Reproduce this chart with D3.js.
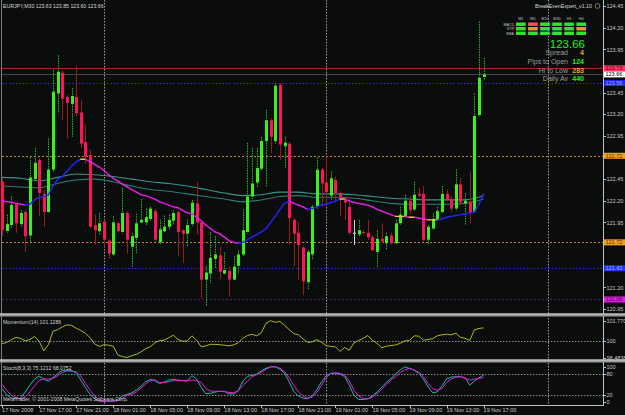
<!DOCTYPE html>
<html>
<head>
<meta charset="utf-8">
<script src="https://cdn.jsdelivr.net/npm/d3@7"></script>
<style>
  body { margin: 0; background: #0b0d0d; }
  svg { display: block; font-family: "Liberation Sans", Arial, sans-serif; }
  .axis path, .axis line { stroke: #c0c0c0; shape-rendering: crispEdges; }
  .axis text { fill: #c8c8c8; font-size: 5.5px; font-family: "Liberation Sans", Arial, sans-serif; }
</style>
</head>
<body>
<script>
// EURJPY M30, bars from 17 Nov 2008 13:00
const opens = [122.42,121.85,121.92,122.16,121.93,122.07,121.80,122.45,122.67,122.28,
  122.07,122.56,123.44,123.68,123.40,123.32,123.40,123.22,122.88,122.73,
  121.92,121.85,121.96,121.74,121.58,121.94,121.84,122.06,121.67,121.77,
  121.95,121.95,121.99,122.08,121.72,121.85,121.90,121.97,122.07,121.86,
  121.82,121.93,122.17,121.95,121.29,121.36,121.53,121.57,121.36,121.39,
  121.29,121.45,121.58,121.84,122.25,122.41,122.57,122.89,123.13,122.89,
  123.54,122.83,122.86,121.98,121.83,121.66,121.26,121.58,122.13,122.56,
  122.41,122.26,122.44,122.29,122.22,122.13,121.83,121.81,121.84,121.83,
  121.78,121.61,121.76,121.71,121.80,121.71,121.94,122.02,122.20,122.10,
  122.28,122.28,121.75,121.88,121.98,122.07,122.28,122.22,122.11,122.39,
  122.17,122.19,122.07,123.19,123.63];
const highs = [122.46,122.04,122.25,122.18,122.09,122.09,122.70,122.81,122.69,122.33,
  122.92,123.71,123.88,123.71,123.42,123.50,123.76,123.37,123.08,122.79,
  122.04,122.06,121.98,121.76,122.02,121.96,122.35,122.08,121.83,122.05,
  122.22,122.11,122.13,122.11,121.98,122.03,122.04,122.09,122.09,121.87,
  121.98,122.21,122.42,121.97,121.44,121.84,121.79,121.67,121.60,121.44,
  121.56,121.63,122.10,122.87,122.81,122.81,122.94,123.25,123.15,123.56,
  123.56,122.94,122.88,122.00,121.95,121.68,121.63,122.15,122.70,122.58,
  122.71,122.54,122.48,122.31,122.25,122.23,121.98,121.98,121.86,121.98,
  121.80,121.86,121.94,121.83,121.83,121.98,122.13,122.27,122.25,122.42,
  122.35,122.37,121.92,122.06,122.13,122.37,122.33,122.25,122.56,122.46,
  122.29,122.54,123.44,124.27,123.85];
const lows = [121.79,121.83,121.89,121.83,121.90,121.61,121.73,122.43,122.02,121.90,
  122.06,122.54,123.21,123.13,122.92,122.94,123.17,122.81,122.63,121.88,
  121.69,121.81,121.67,121.53,121.56,121.83,121.82,121.59,121.44,121.60,
  121.93,121.92,121.97,121.73,121.69,121.83,121.86,121.92,121.56,121.48,
  121.67,121.91,121.81,121.07,120.98,121.25,121.42,121.29,121.34,121.09,
  121.27,121.36,121.55,121.82,122.22,122.36,122.55,122.36,122.75,122.86,
  122.67,122.58,121.69,121.44,121.29,121.11,121.17,121.52,122.11,122.13,
  122.14,122.21,122.18,122.02,121.98,121.81,121.69,121.79,121.81,121.75,
  121.62,121.43,121.71,121.63,121.69,121.69,121.92,122.00,122.04,122.08,
  122.24,121.73,121.69,121.86,121.96,122.05,122.19,122.07,122.09,122.15,
  121.92,121.94,122.06,123.17,123.60];
const closes = [121.86,121.93,122.15,121.94,122.06,121.79,122.47,122.64,122.29,122.07,
  122.56,123.46,123.69,123.38,123.33,123.41,123.21,122.86,122.71,121.90,
  121.86,121.94,121.75,121.59,121.95,121.85,122.06,121.75,121.79,121.94,
  121.98,122.01,122.11,121.75,121.87,121.90,121.98,122.06,121.84,121.82,
  121.92,122.18,121.95,121.29,121.37,121.54,121.58,121.38,121.40,121.29,
  121.44,121.58,121.86,122.25,122.40,122.58,122.89,123.13,122.94,123.53,
  122.85,122.87,122.00,121.82,121.69,121.27,121.61,122.13,122.56,122.40,
  122.30,122.46,122.29,122.24,122.18,121.83,121.83,121.86,121.83,121.78,
  121.63,121.76,121.73,121.79,121.71,121.94,122.04,122.20,122.09,122.27,
  122.26,121.75,121.90,121.99,122.08,122.28,122.21,122.11,122.39,122.18,
  122.20,122.06,123.18,123.62,123.66];

// colour-changing moving average, one value per bar
const maFast = [122.20,122.19,122.18,122.17,122.16,122.15,122.16,122.21,122.24,122.25,
  122.27,122.37,122.45,122.48,122.54,122.60,122.65,122.68,122.68,122.65,
  122.62,122.59,122.55,122.50,122.46,122.43,122.39,122.36,122.33,122.30,
  122.27,122.26,122.24,122.22,122.19,122.17,122.15,122.13,122.12,122.09,
  122.06,122.05,122.01,121.97,121.92,121.88,121.84,121.82,121.78,121.74,
  121.72,121.71,121.72,121.75,121.78,121.81,121.84,121.88,121.95,122.02,
  122.10,122.17,122.20,122.17,122.15,122.13,122.10,122.11,122.13,122.15,
  122.16,122.18,122.20,122.22,122.22,122.20,122.18,122.17,122.16,122.15,
  122.13,122.10,122.08,122.06,122.04,122.02,122.02,122.02,122.01,122.01,
  122.00,121.99,121.98,121.98,121.98,121.99,122.01,122.02,122.03,122.04,
  122.05,122.06,122.07,122.16,122.28];
// two slow averages, read every 4th bar
const slowBars = d3.range(0, 105, 4);
const maSlowA = [122.47,122.46,122.43,122.47,122.51,122.50,122.48,122.45,122.42,122.40,
  122.37,122.33,122.29,122.26,122.27,122.30,122.30,122.28,122.28,122.27,
  122.25,122.23,122.22,122.21,122.21,122.21,122.26];
const maSlowB = [122.37,122.36,122.35,122.40,122.44,122.45,122.42,122.37,122.33,122.31,
  122.28,122.25,122.22,122.19,122.21,122.25,122.26,122.24,122.24,122.23,
  122.20,122.17,122.16,122.16,122.16,122.17,122.22];

const momentum = [99.72,99.83,100.08,100.28,100.20,99.97,100.08,100.37,99.94,99.07,
  99.63,100.84,100.96,101.21,101.40,101.35,101.10,100.90,100.65,100.25,
  99.69,99.47,99.63,99.58,99.49,98.71,98.57,98.48,98.65,98.76,
  98.99,99.27,99.44,99.80,100.00,100.03,100.25,100.48,100.08,99.94,
  99.97,100.42,100.03,99.44,99.52,99.66,99.66,99.63,99.58,99.52,
  99.61,99.80,100.20,100.45,100.56,100.42,100.70,101.54,101.77,101.63,
  101.71,101.35,100.98,100.62,100.51,100.14,99.83,99.89,100.08,99.83,
  99.55,99.47,99.44,99.02,99.38,99.13,99.80,100.00,100.20,100.45,
  100.00,99.75,99.35,99.49,99.55,99.61,99.75,99.97,100.00,100.42,
  100.39,100.03,100.08,100.17,100.42,100.51,100.56,100.51,100.65,100.28,
  100.20,100.00,100.95,101.08,101.1286];

const stochMain = [36.9,19.4,9.7,7.8,9.7,27.2,46.6,64.1,72.8,64.1,
  58.3,68.0,79.6,88.3,89.3,88.3,82.5,61.2,39.8,20.4,
  7.8,1.0,0.0,0.0,2.0,5.8,15.5,20.4,24.3,33.0,
  43.7,56.3,63.1,59.2,51.5,55.3,61.2,63.1,60.2,59.2,
  58.3,73.8,64.1,40.8,22.3,23.3,27.2,29.1,29.1,22.3,
  21.4,31.1,58.3,71.8,74.8,78.6,87.4,95.1,99.0,99.0,
  92.2,80.6,56.3,29.1,15.5,9.7,7.8,16.5,34.0,56.3,
  73.8,80.6,80.6,78.6,70.9,46.6,17.5,5.8,5.8,7.8,
  16.5,27.2,40.8,54.4,66.0,78.6,90.3,99.0,94.2,89.3,
  80.6,64.1,41.7,25.2,27.2,44.7,64.1,69.9,70.9,70.9,
  68.0,46.6,58.3,68.0,75.1212];
const stochSignal = [48.5,32.0,17.5,9.7,7.8,12.6,27.2,44.7,60.2,64.1,
  64.1,66.0,73.8,82.5,87.4,86.4,84.5,72.8,51.5,32.0,
  15.5,4.9,0.0,0.0,0.0,2.9,9.7,17.5,20.4,27.2,
  38.8,49.5,60.2,62.1,54.4,54.4,56.3,60.2,61.2,60.2,
  60.2,61.2,60.2,54.4,36.9,30.1,29.1,29.1,28.2,26.2,
  25.2,31.1,44.7,58.3,70.9,76.7,83.5,92.2,99.0,99.0,
  95.1,85.4,68.0,46.6,27.2,15.5,9.7,12.6,25.2,46.6,
  68.0,79.6,82.5,80.6,75.7,58.3,32.0,15.5,7.8,7.8,
  12.6,22.3,35.0,48.5,62.1,70.9,83.5,90.3,95.1,90.3,
  83.5,71.8,51.5,36.9,32.0,36.9,54.4,64.1,69.9,70.9,
  66.0,61.2,64.1,66.0,68.0752];

const priceTicks = [124.45,124.20,123.95,123.70,123.45,123.20,122.95,122.70,122.45,122.20,121.95,121.70,121.45,121.20,120.95];
const momTicks = [98.4838, 100, 101.77];
const momTickLabels = ["98.4838", "100", "101.770"];
const stochTicks = [0, 20, 80, 100];
const timeBars = d3.range(0, 105, 8);
const timeLabels = ["17 Nov 2008","17 Nov 17:00","17 Nov 21:00","18 Nov 01:00","18 Nov 05:00","18 Nov 09:00",
  "18 Nov 13:00","18 Nov 17:00","18 Nov 21:00","19 Nov 01:00","19 Nov 05:00","19 Nov 09:00","19 Nov 13:00","19 Nov 17:00"];
const dayBreaks = [22, 70, 118];
const levels = [123.73, 123.66, 123.56, 122.72, 121.72, 121.42, 121.06];
const levelStyle = [
  {line: "#9b2d1f", dash: null, bg: "#ff3366", fg: "#5a0010"},
  {line: "#454545", dash: null, bg: "#ffffff", fg: "#000000"},
  {line: "#3a2ad0", dash: "1.5,2", bg: "#2525ff", fg: "#b0b0ff"},
  {line: "#c7851a", dash: "2,2", bg: "#f0a020", fg: "#5a3400"},
  {line: "#c7851a", dash: "2,2", bg: "#f0a020", fg: "#5a3400"},
  {line: "#2a2ad8", dash: "1.5,2", bg: "#2233ff", fg: "#b0b0ff"},
  {line: "#5d1a8a", dash: "2,2", bg: "#e020e0", fg: "#400040"}
];
const tfNames = ["M1","M5","M15","M30","H1","H4"];
const tfRows = ["MACD","STR","EMA"];
const tfState = [[1,-1,1,1,1,1],[1,0,1,1,1,0],[1,1,1,1,1,1]];
const infoLabels = ["Spread","Pips to Open","Hi to Low","Daily Av"];
const infoValues = ["4","124","283","440"];

const W = 625, H = 415;
const svg = d3.select("body").append("svg").attr("width", W).attr("height", H);
svg.append("rect").attr("width", W).attr("height", H).attr("fill", "#0b0d0d");

const x = d3.scaleLinear().domain([0, 104]).range([2.1, 483.6]);
const y = d3.scaleLinear().domain([120.95, 124.45]).range([309, 6]);
const yMom = d3.scaleLinear().domain([98.4838, 101.77]).range([357.5, 320.7]);
const ySto = d3.scaleLinear().domain([0, 100]).range([401.5, 366.5]);
const px = i => Math.round(x(i)) + 0.5;

// clip regions for panes
const defs = svg.append("defs");
defs.append("clipPath").attr("id", "cMain").append("rect").attr("x", 0).attr("y", 0).attr("width", 603).attr("height", 313);
defs.append("clipPath").attr("id", "cMom").append("rect").attr("x", 0).attr("y", 317).attr("width", 603).attr("height", 43);
defs.append("clipPath").attr("id", "cSto").append("rect").attr("x", 0).attr("y", 363).attr("width", 603).attr("height", 42);

// day separators
svg.append("g").selectAll("line").data(dayBreaks).join("line")
  .attr("x1", d => px(d)).attr("x2", d => px(d)).attr("y1", 0).attr("y2", 405)
  .attr("stroke", "#9a9a9a").attr("stroke-dasharray", "1.5,1.5");

// left border
svg.append("line").attr("x1", 1.5).attr("x2", 1.5).attr("y1", 0).attr("y2", 405).attr("stroke", "#7a7a7a");

const main = svg.append("g").attr("clip-path", "url(#cMain)");

// level lines
main.append("g").selectAll("line").data(levels).join("line")
  .attr("x1", 2).attr("x2", 603)
  .attr("y1", d => Math.round(y(d)) + 0.5).attr("y2", d => Math.round(y(d)) + 0.5)
  .attr("stroke", (d, i) => levelStyle[i].line)
  .attr("stroke-dasharray", (d, i) => levelStyle[i].dash);

// slow averages
const slowLine = vals => d3.line().x((d, i) => x(slowBars[i])).y(d => y(d)).curve(d3.curveMonotoneX)(vals);
main.append("path").attr("d", slowLine(maSlowA)).attr("fill", "none").attr("stroke", "#3b9488").attr("stroke-width", 1.1);
main.append("path").attr("d", slowLine(maSlowB)).attr("fill", "none").attr("stroke", "#2a7d74").attr("stroke-width", 1.1);

// candles
const bars = d3.range(opens.length).map(i => ({i, o: opens[i], h: highs[i], l: lows[i], c: closes[i]}));
const kind = d => d.c > d.o ? "up" : d.c < d.o ? "down" : "doji";
const wickColor = {up: "#25b825", down: "#9a1a1a", doji: "#d0d0d0"};
const bodyColor = {up: "#3cf01c", down: "#ff1459", doji: "#d0d0d0"};
const cg = main.append("g");
cg.selectAll("line.wick").data(bars).join("line").attr("class", "wick")
  .attr("x1", d => px(d.i)).attr("x2", d => px(d.i))
  .attr("y1", d => y(d.h)).attr("y2", d => y(d.l))
  .attr("stroke", d => wickColor[kind(d)])
  .attr("stroke-dasharray", d => kind(d) === "up" ? "1.5,1" : null);
cg.selectAll("rect.body").data(bars).join("rect").attr("class", "body")
  .attr("x", d => px(d.i) - 1.5).attr("width", 3)
  .attr("y", d => y(Math.max(d.o, d.c)))
  .attr("height", d => Math.max(1, y(Math.min(d.o, d.c)) - y(Math.max(d.o, d.c))))
  .attr("fill", d => bodyColor[kind(d)]);

// colour-changing average
const segs = d3.range(1, maFast.length).map(i => ({i, a: maFast[i - 1], b: maFast[i]}));
main.append("g").selectAll("line").data(segs).join("line")
  .attr("x1", d => x(d.i - 1)).attr("x2", d => x(d.i))
  .attr("y1", d => y(d.a)).attr("y2", d => y(d.b))
  .attr("stroke", d => d.b > d.a ? "#2424ff" : d.b < d.a ? "#e81ee8" : "#e6d21e")
  .attr("stroke-width", 1.4).attr("stroke-linecap", "round");

// price axis (ticks hidden behind level tags are not drawn, as in the terminal)
const visibleTicks = priceTicks.filter(t => levels.every(l => Math.abs(y(t) - y(l)) > 5));
svg.append("line").attr("x1", 603.5).attr("x2", 603.5).attr("y1", 0).attr("y2", 405).attr("stroke", "#c0c0c0");
const pAxis = svg.append("g").attr("class", "axis").attr("transform", "translate(603.5,0)")
  .call(d3.axisRight(y).tickValues(visibleTicks).tickFormat(d3.format(".2f")).tickSize(2).tickPadding(1));
pAxis.select(".domain").remove();

// level price tags
const tags = svg.append("g").selectAll("g").data(levels).join("g")
  .attr("transform", d => `translate(604,${y(d)})`);
tags.append("rect").attr("x", 0).attr("y", -3).attr("width", 21).attr("height", 6)
  .attr("fill", (d, i) => levelStyle[i].bg);
tags.append("text").attr("x", 1.5).attr("y", 2).attr("font-size", 5.5)
  .attr("fill", (d, i) => levelStyle[i].fg).text(d => d3.format(".2f")(d));

// title
svg.append("text").attr("x", 3).attr("y", 7.5).attr("font-size", 5.2).attr("fill", "#d8d8d8")
  .text(`EURJPY,M30 ${d3.format(".2f")(opens[104])} ${d3.format(".2f")(highs[104])} ${d3.format(".2f")(lows[104])} ${d3.format(".2f")(closes[104])}`);

// expert panel
const panel = svg.append("g");
panel.append("text").attr("x", 592).attr("y", 8).attr("text-anchor", "end").attr("font-size", 5.3)
  .attr("fill", "#d8d8d8").text("BreakEvenExpert_v1.10");
panel.append("circle").attr("cx", 597.5).attr("cy", 6).attr("r", 2.4).attr("fill", "none").attr("stroke", "#a0a0a0").attr("stroke-width", 0.7);
const colX = d3.scaleBand().domain(tfNames).range([516, 586]).paddingInner(0.2);
panel.selectAll("text.tf").data(tfNames).join("text").attr("class", "tf")
  .attr("x", d => colX(d) + colX.bandwidth() / 2).attr("y", 20).attr("text-anchor", "middle")
  .attr("font-size", 3.8).attr("fill", "#c0c0c0").text(d => d);
const rowY = d3.scaleBand().domain(tfRows).range([22.5, 35]).paddingInner(0.25);
panel.selectAll("text.row").data(tfRows).join("text").attr("class", "row")
  .attr("x", 514).attr("y", d => rowY(d) + rowY.bandwidth() - 0.4).attr("text-anchor", "end")
  .attr("font-size", 3.6).attr("fill", "#c0c0c0").text(d => d);
const cells = tfState.flatMap((row, r) => row.map((s, c) => ({r, c, s})));
panel.selectAll("rect.cell").data(cells).join("rect").attr("class", "cell")
  .attr("x", d => colX(tfNames[d.c])).attr("y", d => rowY(tfRows[d.r]))
  .attr("width", colX.bandwidth()).attr("height", rowY.bandwidth())
  .attr("fill", d => d.s > 0 ? "#2ee62e" : d.s < 0 ? "#ff4d5e" : "#eb9a1e");
panel.append("text").attr("x", 585).attr("y", 48).attr("text-anchor", "end").attr("font-size", 11.5)
  .attr("fill", "#22ee22").text(d3.format(".2f")(closes[104]));
panel.selectAll("text.il").data(infoLabels).join("text").attr("class", "il")
  .attr("x", 568).attr("y", (d, i) => 55 + i * 8.8).attr("text-anchor", "end")
  .attr("font-size", 7).attr("fill", "#9a9a9a").text(d => d);
panel.selectAll("text.iv").data(infoValues).join("text").attr("class", "iv")
  .attr("x", 584).attr("y", (d, i) => 55 + i * 8.8).attr("text-anchor", "end")
  .attr("font-size", 7).attr("font-weight", "bold")
  .attr("fill", (d, i) => i % 2 === 0 ? "#e8a81a" : "#2ee62e").text(d => d);

// pane separators
[313.5, 359.5].forEach(s => {
  svg.append("rect").attr("x", 0).attr("y", s).attr("width", 625).attr("height", 3).attr("fill", "#9a9a9a");
  svg.append("line").attr("x1", 0).attr("x2", 625).attr("y1", s + 0.5).attr("y2", s + 0.5).attr("stroke", "#d0d0d0");
});

// momentum pane
const mom = svg.append("g").attr("clip-path", "url(#cMom)");
mom.append("line").attr("x1", 2).attr("x2", 603).attr("y1", Math.round(yMom(100)) + 0.5).attr("y2", Math.round(yMom(100)) + 0.5)
  .attr("stroke", "#8a8a8a").attr("stroke-dasharray", "1.5,1.5");
mom.append("path").attr("d", d3.line().x((d, i) => x(i)).y(d => yMom(d))(momentum))
  .attr("fill", "none").attr("stroke", "#b8b418").attr("stroke-width", 1);
svg.append("text").attr("x", 3).attr("y", 324).attr("font-size", 5.2).attr("fill", "#d0d0d0")
  .text(`Momentum(14) ${d3.format(".4f")(momentum[104])}`);
const mAxis = svg.append("g").attr("class", "axis").attr("transform", "translate(603.5,0)")
  .call(d3.axisRight(yMom).tickValues(momTicks).tickFormat((d, i) => momTickLabels[i]).tickSize(2).tickPadding(1));
mAxis.select(".domain").remove();

// stochastic pane
const sto = svg.append("g").attr("clip-path", "url(#cSto)");
sto.selectAll("line").data([20, 80]).join("line")
  .attr("x1", 2).attr("x2", 603).attr("y1", d => Math.round(ySto(d)) + 0.5).attr("y2", d => Math.round(ySto(d)) + 0.5)
  .attr("stroke", "#8a8a8a").attr("stroke-dasharray", "1.5,1.5");
sto.append("path").attr("d", d3.line().x((d, i) => x(i)).y(d => ySto(d))(stochMain))
  .attr("fill", "none").attr("stroke", "#22b8a8").attr("stroke-width", 1);
sto.append("path").attr("d", d3.line().x((d, i) => x(i)).y(d => ySto(d))(stochSignal))
  .attr("fill", "none").attr("stroke", "#e020e0").attr("stroke-width", 1);
svg.append("text").attr("x", 3).attr("y", 369.5).attr("font-size", 5.2).attr("fill", "#d0d0d0")
  .text(`Stoch(8,3,3) ${d3.format(".4f")(stochMain[104])} ${d3.format(".4f")(stochSignal[104])}`);
svg.append("text").attr("x", 3).attr("y", 401).attr("font-size", 5.2).attr("fill", "#d0d0d0")
  .text("MetaTrader, © 2001-2008 MetaQuotes Software Corp.");
const sAxis = svg.append("g").attr("class", "axis").attr("transform", "translate(603.5,0)")
  .call(d3.axisRight(ySto).tickValues(stochTicks).tickSize(2).tickPadding(1));
sAxis.select(".domain").remove();

// time axis
svg.append("line").attr("x1", 0).attr("x2", 604).attr("y1", 405.5).attr("y2", 405.5).attr("stroke", "#c0c0c0");
const tAxis = svg.append("g").attr("class", "axis").attr("transform", "translate(0,405.5)")
  .call(d3.axisBottom(x).tickValues(timeBars).tickFormat((d, i) => timeLabels[i]).tickSize(2).tickPadding(1));
tAxis.select(".domain").remove();
tAxis.selectAll("text").attr("text-anchor", "start").attr("dx", "-0.5").attr("dy", "0.6em");
</script>
</body>
</html>
